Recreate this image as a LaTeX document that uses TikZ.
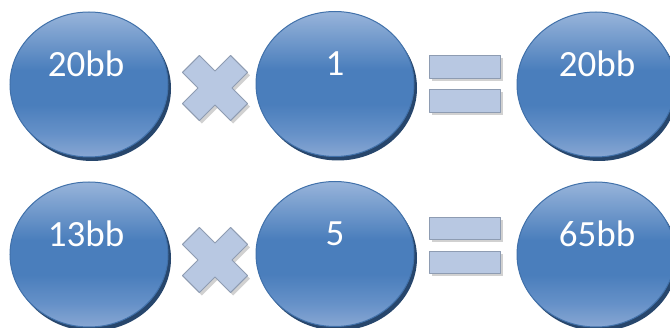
\documentclass[tikz,border=0pt]{standalone}
\usepackage{fontspec}
\setmainfont{Carlito}
\usetikzlibrary{shapes.geometric}
\definecolor{ballbot}{HTML}{88A7D3}
\definecolor{balllow}{HTML}{6691C8}
\definecolor{ballmid}{HTML}{4A7EBC}
\definecolor{balltop}{HTML}{98B4DA}
\definecolor{ballrim}{HTML}{4171AA}
\definecolor{ballshadow}{HTML}{27466C}
\definecolor{opfill}{HTML}{B8C8E2}
\definecolor{oprim}{HTML}{8E9CB2}
\pgfdeclareverticalshading{ballshade}{100bp}{color(0bp)=(ballbot); color(25bp)=(ballbot); color(33bp)=(balllow); color(43bp)=(ballmid); color(55bp)=(ballmid); color(75bp)=(balltop); color(100bp)=(balltop)}
\tikzset{
  ball/.style={ellipse, minimum width=158pt, minimum height=145pt, inner sep=0pt,
    shading=ballshade, draw=ballrim, line width=1pt},
  ballsh/.style={ellipse, minimum width=158pt, minimum height=145pt, inner sep=0pt,
    fill=ballshadow},
  balltext/.style={text=white, font=\fontsize{37}{42}\selectfont},
  opshape/.style={fill=opfill, draw=oprim, line width=1pt, line join=round},
  opshadow/.style={fill=black, opacity=0.18},
}
\newcommand{\crosspath}{(-12,-34) -- (12,-34) -- (12,-12) -- (34,-12) -- (34,12) -- (12,12) -- (12,34) -- (-12,34) -- (-12,12) -- (-34,12) -- (-34,-12) -- (-12,-12) -- cycle}
\newcommand{\crossat}[3]{% name, x, y
  \begin{scope}[shift={(#2+2.5,#3+3)}]
    \path[opshadow, rotate=45] \crosspath;
  \end{scope}
  \begin{scope}[shift={(#2,#3)}]
    \path[opshape, rotate=45] \crosspath;
    \coordinate (#1) at (0,0);
  \end{scope}
}
\newcommand{\barat}[3]{% name, top y, bottom y
  \path[opshadow] (431.5,#2+3) rectangle (502.5,#3+3);
  \node[opshape, rectangle, minimum width=71pt, minimum height=#3pt-#2pt, inner sep=0pt, anchor=north west] (#1) at (429,#2) {};
}
\begin{document}
\begin{tikzpicture}[x=1pt,y=-1pt]
\useasboundingbox (0,0) rectangle (670,328);
% shadows of balls
\foreach \x/\y in {89/84.5,335/84,596/84.5,89/254.5,335/254,596/254.5}{
  \node[ballsh] at (\x+3,\y+4) {};
}
% top row
\node[ball] (a1) at (89,84.5) {};
\node[balltext] (ta1) at (86,64) {20bb};
\crossat{x1}{215}{88}
\node[ball] (b1) at (335,84) {};
\node[balltext] (tb1) at (335,64) {1};
\barat{e1}{55}{78}
\barat{e2}{89}{112}
\node[ball] (c1) at (596,84.5) {};
\node[balltext] (tc1) at (597,64) {20bb};
% bottom row
\node[ball] (a2) at (89,254.5) {};
\node[balltext] (ta2) at (86,234) {13bb};
\crossat{x2}{215}{260}
\node[ball] (b2) at (335,254) {};
\node[balltext] (tb2) at (335,234) {5};
\barat{e3}{217}{239}
\barat{e4}{251}{273}
\node[ball] (c2) at (596,254.5) {};
\node[balltext] (tc2) at (597,234) {65bb};
\end{tikzpicture}
\end{document}
